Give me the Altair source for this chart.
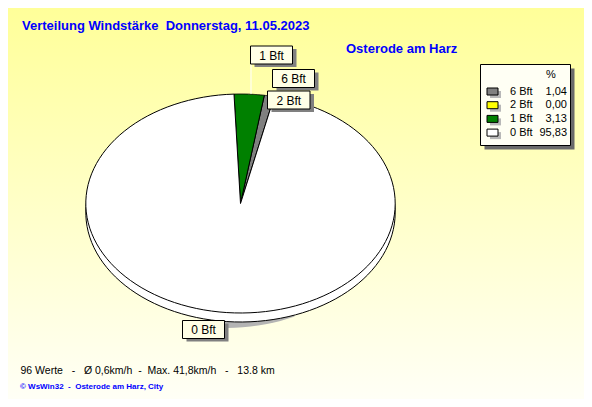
import altair as alt
import pandas as pd

# ---------------- data ----------------
labels = ["6 Bft", "2 Bft", "1 Bft", "0 Bft"]
percent = [1.04, 0.00, 3.13, 95.83]
colors = ["#808080", "#ffff00", "#008000", "#ffffff"]

title_text = "Verteilung Windstärke  Donnerstag, 11.05.2023"
station_text = "Osterode am Harz"
stats_text = "96 Werte   -   Ø 0,6km/h  -  Max. 41,8km/h   -   13.8 km"
credit_text = "© WsWin32  -  Osterode am Harz, City"


def keep_spaces(s):
    return s.replace(" ", "\u00a0")


# ---------------- layout ----------------
W, H = 576, 391
M = 8
CX, CY, A, B, DEPTH = 240.5 - M, 203.5 - M, 154.7, 109.5, 9
T0 = 12.6
N = 120
FONT = "Liberation Sans"

# label box layout (page coords: x1, y1, x2, y2)
box_layout = {
    "1 Bft": (250.5, 46, 292.5, 64),
    "6 Bft": (272.5, 69.5, 314.5, 87.5),
    "2 Bft": (267.5, 91, 310, 109),
    "0 Bft": (182.5, 320.5, 224.5, 338.5),
}
LEG = (480.5, 64.5, 570.5, 145.5)
LEG_ROW0, LEG_DY = 91.5, 13.7

xs = alt.Scale(domain=[0, W], range=[0, W], nice=False, zero=False)
ys = alt.Scale(domain=[0, H], range=[0, H], nice=False, zero=False)


def X(f):
    return alt.X(f, type="quantitative", scale=xs, axis=None)


def Y(f):
    return alt.Y(f, type="quantitative", scale=ys, axis=None)


def X2(f):
    return alt.X2(f)


def Y2(f):
    return alt.Y2(f)


one = pd.DataFrame({"a": [0]})

background = alt.Chart(one).mark_rect(
    color=alt.Gradient(
        gradient="linear",
        stops=[alt.GradientStop(color="#ffff99", offset=0),
               alt.GradientStop(color="#fffff6", offset=1)],
        x1=0, x2=0, y1=0, y2=1,
    )
).encode(x=alt.value(0), x2=alt.value(W), y=alt.value(0), y2=alt.value(H))

slice_df = pd.DataFrame({"label": labels, "pct": percent, "color": colors})


def pie_points(dy, dx=0):
    return alt.Chart(slice_df).transform_window(
        idx="row_number()"
    ).transform_window(
        cum="sum(pct)", sort=[alt.SortField("idx")], frame=[None, 0]
    ).transform_filter("datum.pct > 0").transform_calculate(
        t1=f"{T0} - (datum.cum - datum.pct) * 3.6"
    ).transform_calculate(
        t2=f"{T0} - datum.cum * 3.6"
    ).transform_calculate(
        k=f"sequence(-1, {N + 1})"
    ).transform_flatten(["k"]).transform_calculate(
        deg=f"datum.t1 + (datum.t2 - datum.t1) * max(datum.k, 0) / {N}"
    ).transform_calculate(
        ang="datum.deg * PI / 180"
    ).transform_calculate(
        px=f"(datum.k < 0 ? {CX} : {CX} + {A} * sin(datum.ang)) + {dx}"
    ).transform_calculate(
        py=f"(datum.k < 0 ? {CY} : {CY} - {B} * cos(datum.ang)) + {dy}"
    )


def pie_layer(dy):
    return pie_points(dy).mark_line(stroke="black", strokeWidth=1,
                                    interpolate="linear-closed").encode(
        x=X("px"), y=Y("py"), order=alt.Order("k:Q"), detail="label:N",
        fill=alt.Fill("color:N", scale=None, legend=None),
    )


# soft drop shadow below the rim (only the lower front part)
pie_shadow = pie_points(DEPTH + 6, -15).transform_filter(
    "datum.k < 0 || (datum.deg >= -208 && datum.deg <= -174)"
).mark_line(stroke="#b4b4b4", strokeWidth=0, fill="#b4b4b4",
            interpolate="linear-closed").encode(
    x=X("px"), y=Y("py"), order=alt.Order("k:Q"), detail="label:N")

pie_side = pie_layer(DEPTH)
pie_top = pie_layer(0)

# label boxes
box_df = pd.DataFrame({
    "label": [l for l in labels if l in box_layout],
})
box_df["x1"] = [box_layout[l][0] - M for l in box_df["label"]]
box_df["y1"] = [box_layout[l][1] - M for l in box_df["label"]]
box_df["x2"] = [box_layout[l][2] - M for l in box_df["label"]]
box_df["y2"] = [box_layout[l][3] - M for l in box_df["label"]]

box_base = alt.Chart(box_df)
box_shadow = box_base.transform_calculate(
    sx1="datum.x1 + 4", sx2="datum.x2 + 4", sy1="datum.y1 + 3", sy2="datum.y2 + 3"
).mark_rect(color="#808080").encode(x=X("sx1"), x2=X2("sx2"), y=Y("sy1"), y2=Y2("sy2"))
box_rect = box_base.mark_rect(fill="#ffffe6", stroke="black", strokeWidth=1).encode(
    x=X("x1"), x2=X2("x2"), y=Y("y1"), y2=Y2("y2"))
box_text = box_base.transform_calculate(
    tx="(datum.x1 + datum.x2) / 2", ty="(datum.y1 + datum.y2) / 2 + 0.5"
).mark_text(font=FONT, fontSize=12, color="black", baseline="middle", align="center").encode(
    x=X("tx"), y=Y("ty"), text="label:N")

leader = alt.Chart(one).mark_rule(color="white", strokeWidth=1).encode(
    x=alt.value(251 - M), y=alt.value(64 - M), y2=alt.value(94 - M))

# legend
leg_shadow = alt.Chart(one).mark_rect(color="#6a6a6a").encode(
    x=alt.value(LEG[0] + 4 - M), x2=alt.value(LEG[2] + 4 - M),
    y=alt.value(LEG[1] + 4 - M), y2=alt.value(LEG[3] + 4 - M))
leg_box = alt.Chart(one).mark_rect(fill="#fffff4", stroke="black", strokeWidth=1).encode(
    x=alt.value(LEG[0] - M), x2=alt.value(LEG[2] - M),
    y=alt.value(LEG[1] - M), y2=alt.value(LEG[3] - M))
leg_pct = alt.Chart(one).mark_text(font=FONT, fontSize=11, text="%", align="center",
                                   baseline="middle").encode(
    x=alt.value(551 - M), y=alt.value(75 - M))

leg_base = alt.Chart(slice_df).transform_window(idx="row_number()").transform_calculate(
    ry=f"{LEG_ROW0 - M} + (datum.idx - 1) * {LEG_DY}",
    ry1=f"{LEG_ROW0 - M - 3.5} + (datum.idx - 1) * {LEG_DY}",
    ry2=f"{LEG_ROW0 - M + 3.5} + (datum.idx - 1) * {LEG_DY}",
    sy1=f"{LEG_ROW0 - M - 0.5} + (datum.idx - 1) * {LEG_DY}",
    sy2=f"{LEG_ROW0 - M + 6.5} + (datum.idx - 1) * {LEG_DY}",
    sx1=f"{487 - M}", sx2=f"{498 - M}",
    hx1=f"{490 - M}", hx2=f"{501 - M}",
    lx=f"{510 - M}", vx=f"{567 - M}",
    val="replace(format(datum.pct, '.2f'), '.', ',')",
)
leg_sw_shadow = leg_base.mark_rect(color="#b8b8b8").encode(
    x=X("hx1"), x2=X2("hx2"), y=Y("sy1"), y2=Y2("sy2"))
leg_sw = leg_base.mark_rect(stroke="black", strokeWidth=1).encode(
    x=X("sx1"), x2=X2("sx2"), y=Y("ry1"), y2=Y2("ry2"),
    fill=alt.Fill("color:N", scale=None, legend=None))
leg_lab = leg_base.mark_text(font=FONT, fontSize=11, align="left", baseline="middle").encode(
    x=X("lx"), y=Y("ry"), text="label:N")
leg_val = leg_base.mark_text(font=FONT, fontSize=11, align="right", baseline="middle").encode(
    x=X("vx"), y=Y("ry"), text="val:N")

# texts
title = alt.Chart(one).mark_text(font=FONT, fontSize=13, fontWeight="bold", color="#0000ff",
                                 align="left", baseline="alphabetic",
                                 text=keep_spaces(title_text)).encode(
    x=alt.value(22 - M), y=alt.value(29.5 - M))
station = alt.Chart(one).mark_text(font=FONT, fontSize=13, fontWeight="bold", color="#0000ff",
                                   align="left", baseline="alphabetic", text=station_text).encode(
    x=alt.value(346 - M), y=alt.value(53 - M))
stats = alt.Chart(one).mark_text(font=FONT, fontSize=10.5, color="black",
                                 align="left", baseline="alphabetic",
                                 text=keep_spaces(stats_text)).encode(
    x=alt.value(20.5 - M), y=alt.value(373.5 - M))
credit = alt.Chart(one).mark_text(font=FONT, fontSize=8, fontWeight="bold", color="#0000ff",
                                  align="left", baseline="alphabetic",
                                  text=keep_spaces(credit_text)).encode(
    x=alt.value(20 - M), y=alt.value(389 - M))

chart = alt.layer(
    background, pie_shadow, pie_side, pie_top, leader,
    box_shadow, box_rect, box_text,
    leg_shadow, leg_box, leg_pct, leg_sw_shadow, leg_sw, leg_lab, leg_val,
    title, station, stats, credit,
).resolve_scale(fill="independent").properties(
    width=W, height=H, padding=0, autosize=alt.AutoSizeParams(type="none")
).configure_view(stroke=None).configure(background="#ffffff")

chart.save("out.html", embed_options={"renderer": "svg", "actions": False})
